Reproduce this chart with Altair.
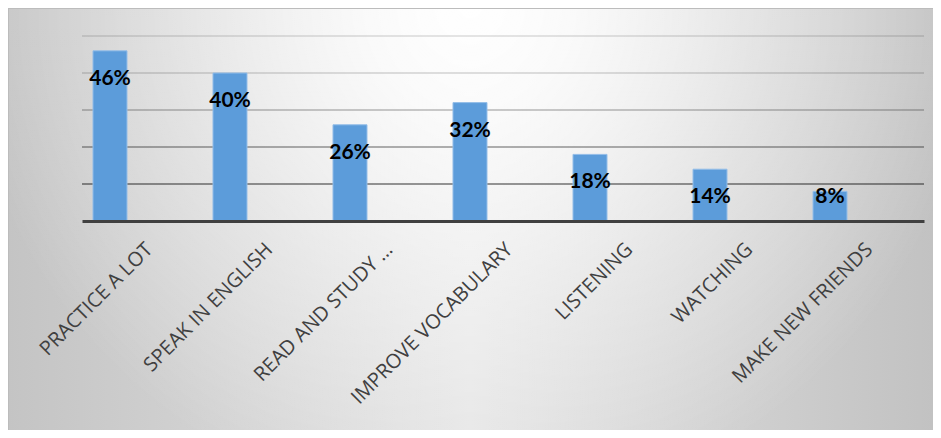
import json
import altair as alt
import pandas as pd

categories = ["PRACTICE A LOT", "SPEAK IN ENGLISH", "READ AND STUDY …", "IMPROVE VOCABULARY",
              "LISTENING", "WATCHING", "MAKE NEW FRIENDS"]
values = [46, 40, 26, 32, 18, 14, 8]
grid_values = [10, 20, 30, 40, 50]
grid_colors = ["rgba(0,0,0,0.40)", "rgba(0,0,0,0.30)", "rgba(0,0,0,0.20)",
               "rgba(0,0,0,0.12)", "rgba(0,0,0,0.10)"]

df = pd.DataFrame({"idx": list(range(len(categories))), "cat": categories, "value": values})
grid_df = pd.DataFrame({"g": grid_values})

W, H = 842, 185
PL, PT, PR, PB = 74, 28, 9, 209

label_expr = json.dumps(categories) + "[round(datum.value)]"

xscale = alt.Scale(domain=[-0.2333, 6.7833], nice=False, zero=False, padding=0)
yscale = alt.Scale(domain=[0, 50], nice=False, zero=True)

base_bg = alt.Chart(pd.DataFrame({"a": [0]})).mark_rect(
    fill=alt.LinearGradient(gradient="linear", x1=0, x2=1, y1=0, y2=0,
                            stops=[alt.GradientStop(color="#c4c4c4", offset=0),
                                   alt.GradientStop(color="#e4e4e4", offset=0.5),
                                   alt.GradientStop(color="#c2c2c2", offset=1)]),
).encode(x=alt.value(-PL), x2=alt.value(W + PR), y=alt.value(-PT), y2=alt.value(H + PB))

glow = alt.Chart(pd.DataFrame({"a": [0]})).mark_rect(
    fill=alt.RadialGradient(gradient="radial", x1=0.5, y1=0.27, x2=0.5, y2=0.27, r1=0, r2=0.55,
                            stops=[alt.GradientStop(color="rgba(255,255,255,1)", offset=0),
                                   alt.GradientStop(color="rgba(255,255,255,0.85)", offset=0.2),
                                   alt.GradientStop(color="rgba(255,255,255,0.4)", offset=0.6),
                                   alt.GradientStop(color="rgba(255,255,255,0)", offset=1)])
).encode(x=alt.value(-PL), x2=alt.value(W + PR), y=alt.value(-PT), y2=alt.value(H + PB))

frame = alt.Chart(pd.DataFrame({"a": [0]})).mark_rect(
    fill=None, stroke="#bcbcbc", strokeWidth=2
).encode(x=alt.value(-PL), x2=alt.value(W + PR + 2), y=alt.value(-PT), y2=alt.value(H + PB + 2))

grid = alt.Chart(grid_df).mark_rule(strokeWidth=2).encode(
    y=alt.Y("g:Q", scale=yscale, axis=None),
    color=alt.Color("g:O", scale=alt.Scale(domain=grid_values, range=grid_colors), legend=None),
)

bars = alt.Chart(df).mark_bar(size=34, color="#5c9cda", stroke="#94bee8", strokeWidth=1).encode(
    x=alt.X("idx:Q", scale=xscale, title=None,
            axis=alt.Axis(values=list(range(len(categories))), labelExpr=label_expr,
                          labelAngle=-45, labelAlign="right", labelBaseline="middle",
                          labelOffset=39, labelPadding=25, ticks=False, grid=False,
                          domain=True, domainColor="#404040", domainWidth=3,
                          labelFont="Open Sans", labelFontSize=20, labelColor="#404040",
                          labelLimit=0, labelOverlap=False, labelBound=False,
                          labelFlush=False, zindex=1)),
    y=alt.Y("value:Q", scale=yscale, axis=None),
)

text = alt.Chart(df).transform_calculate(
    ly="max(datum.value, 14)", lbl="datum.value + '%'"
).mark_text(
    font="Lato", fontSize=21, fontWeight="bold", color="#000000", dy=28, baseline="middle"
).encode(
    x=alt.X("idx:Q", scale=xscale),
    y=alt.Y("ly:Q", scale=yscale),
    text="lbl:N",
)

chart = alt.layer(base_bg, glow, frame, grid, bars, text).properties(
    width=W, height=H,
    autosize=alt.AutoSizeParams(type="none"),
    padding={"left": PL, "top": PT, "right": PR, "bottom": PB},
).configure_view(stroke=None).configure(background="white")

chart.save("out.html", embed_options={"renderer": "svg", "actions": False})
